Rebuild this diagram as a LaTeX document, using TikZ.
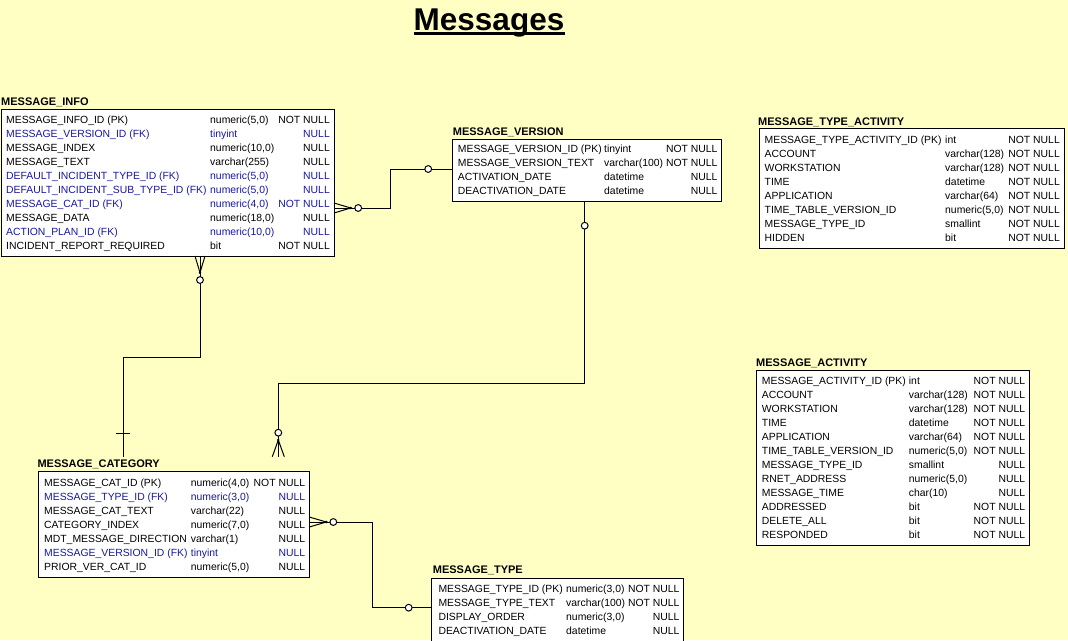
\documentclass[tikz,border=0pt]{standalone}
\usepackage{fontspec}
\setmainfont{Liberation Sans}
\usetikzlibrary{calc}
\definecolor{bgy}{RGB}{255,255,196}
\definecolor{fkblue}{RGB}{24,24,160}
\newfontfamily\erfont{Liberation Sans}
\newcommand\rw[6]{%
 \node[cell,text=#6] (#1-a#2) at ($(#1.north west)+(\colA,\rowY+14*#2)$) {#3};
 \node[cell,text=#6] (#1-b#2) at ($(#1.north west)+(\colB,\rowY+14*#2)$) {#4};
 \node[celr,text=#6] (#1-c#2) at ($(#1.north east)+(-4,\rowY+14*#2)$) {#5};}
\tikzset{
 tbl/.style={draw=black, line width=1pt, fill=white, anchor=north west, inner sep=0pt, outer sep=0pt},
 ttl/.style={anchor=base west, inner sep=0pt, font=\erfont\bfseries\fontsize{11}{13}\selectfont},
 cell/.style={anchor=base west, inner sep=0pt, font=\erfont\fontsize{10.4}{12}\selectfont},
 celr/.style={cell, anchor=base east},
 conn/.style={line width=1pt, draw=black},
 opt/.style={line width=1pt, fill=white, draw=black},
}
\begin{document}
\begin{tikzpicture}[x=1pt,y=-1pt]
\path[use as bounding box] (0,0) rectangle (1068,640);
\fill[bgy] (0,0) rectangle (1068,640);
\clip (0,0) rectangle (1068,640);

% title
\node[font=\bfseries\fontsize{31.5}{36}\selectfont, anchor=base, inner sep=0pt] (title) at (489,30.5) {Messages};
\draw[line width=2.7pt] ($(title.base west)+(0,3)$) -- ($(title.base east)+(0,3)$);

% ---------- tables ----------
% MESSAGE_INFO
\node[tbl, minimum width=333pt, minimum height=147pt] (mi) at (1,109) {};
\node[ttl] (mi-t) at (1,105) {MESSAGE\_INFO};
\def\colA{5}\def\colB{209}\def\rowY{14.5}
\rw{mi}{0}{MESSAGE\_INFO\_ID (PK)}{numeric(5,0)}{NOT NULL}{black}
\rw{mi}{1}{MESSAGE\_VERSION\_ID (FK)}{tinyint}{NULL}{fkblue}
\rw{mi}{2}{MESSAGE\_INDEX}{numeric(10,0)}{NULL}{black}
\rw{mi}{3}{MESSAGE\_TEXT}{varchar(255)}{NULL}{black}
\rw{mi}{4}{DEFAULT\_INCIDENT\_TYPE\_ID (FK)}{numeric(5,0)}{NULL}{fkblue}
\rw{mi}{5}{DEFAULT\_INCIDENT\_SUB\_TYPE\_ID (FK)}{numeric(5,0)}{NULL}{fkblue}
\rw{mi}{6}{MESSAGE\_CAT\_ID (FK)}{numeric(4,0)}{NOT NULL}{fkblue}
\rw{mi}{7}{MESSAGE\_DATA}{numeric(18,0)}{NULL}{black}
\rw{mi}{8}{ACTION\_PLAN\_ID (FK)}{numeric(10,0)}{NULL}{fkblue}
\rw{mi}{9}{INCIDENT\_REPORT\_REQUIRED}{bit}{NOT NULL}{black}

% MESSAGE_VERSION
\node[tbl, minimum width=269pt, minimum height=62.7pt] (mv) at (452.7,139) {};
\node[ttl] (mv-t) at (452.7,135) {MESSAGE\_VERSION};
\def\colA{5}\def\colB{151.3}\def\rowY{13.8}
\rw{mv}{0}{MESSAGE\_VERSION\_ID (PK)}{tinyint}{NOT NULL}{black}
\rw{mv}{1}{MESSAGE\_VERSION\_TEXT}{varchar(100)}{NOT NULL}{black}
\rw{mv}{2}{ACTIVATION\_DATE}{datetime}{NULL}{black}
\rw{mv}{3}{DEACTIVATION\_DATE}{datetime}{NULL}{black}

% MESSAGE_TYPE_ACTIVITY
\node[tbl, minimum width=305pt, minimum height=119.5pt] (mta) at (759,128.5) {};
\node[ttl] (mta-t) at (758,125.5) {MESSAGE\_TYPE\_ACTIVITY};
\def\colA{5.5}\def\colB{186}\def\rowY{15}
\rw{mta}{0}{MESSAGE\_TYPE\_ACTIVITY\_ID (PK)}{int}{NOT NULL}{black}
\rw{mta}{1}{ACCOUNT}{varchar(128)}{NOT NULL}{black}
\rw{mta}{2}{WORKSTATION}{varchar(128)}{NOT NULL}{black}
\rw{mta}{3}{TIME}{datetime}{NOT NULL}{black}
\rw{mta}{4}{APPLICATION}{varchar(64)}{NOT NULL}{black}
\rw{mta}{5}{TIME\_TABLE\_VERSION\_ID}{numeric(5,0)}{NOT NULL}{black}
\rw{mta}{6}{MESSAGE\_TYPE\_ID}{smallint}{NOT NULL}{black}
\rw{mta}{7}{HIDDEN}{bit}{NOT NULL}{black}

% MESSAGE_ACTIVITY
\node[tbl, minimum width=272.6pt, minimum height=175.7pt] (ma) at (756.7,370) {};
\node[ttl] (ma-t) at (756,366.7) {MESSAGE\_ACTIVITY};
\def\colA{5}\def\colB{152}\def\rowY{14.5}
\rw{ma}{0}{MESSAGE\_ACTIVITY\_ID (PK)}{int}{NOT NULL}{black}
\rw{ma}{1}{ACCOUNT}{varchar(128)}{NOT NULL}{black}
\rw{ma}{2}{WORKSTATION}{varchar(128)}{NOT NULL}{black}
\rw{ma}{3}{TIME}{datetime}{NOT NULL}{black}
\rw{ma}{4}{APPLICATION}{varchar(64)}{NOT NULL}{black}
\rw{ma}{5}{TIME\_TABLE\_VERSION\_ID}{numeric(5,0)}{NOT NULL}{black}
\rw{ma}{6}{MESSAGE\_TYPE\_ID}{smallint}{NULL}{black}
\rw{ma}{7}{RNET\_ADDRESS}{numeric(5,0)}{NULL}{black}
\rw{ma}{8}{MESSAGE\_TIME}{char(10)}{NULL}{black}
\rw{ma}{9}{ADDRESSED}{bit}{NOT NULL}{black}
\rw{ma}{10}{DELETE\_ALL}{bit}{NOT NULL}{black}
\rw{ma}{11}{RESPONDED}{bit}{NOT NULL}{black}

% MESSAGE_CATEGORY
\node[tbl, minimum width=271pt, minimum height=105.6pt] (mc) at (38.3,471.7) {};
\node[ttl] (mc-t) at (37.3,467.3) {MESSAGE\_CATEGORY};
\def\colA{5.7}\def\colB{152.4}\def\rowY{14.5}
\rw{mc}{0}{MESSAGE\_CAT\_ID (PK)}{numeric(4,0)}{NOT NULL}{black}
\rw{mc}{1}{MESSAGE\_TYPE\_ID (FK)}{numeric(3,0)}{NULL}{fkblue}
\rw{mc}{2}{MESSAGE\_CAT\_TEXT}{varchar(22)}{NULL}{black}
\rw{mc}{3}{CATEGORY\_INDEX}{numeric(7,0)}{NULL}{black}
\rw{mc}{4}{MDT\_MESSAGE\_DIRECTION}{varchar(1)}{NULL}{black}
\rw{mc}{5}{MESSAGE\_VERSION\_ID (FK)}{tinyint}{NULL}{fkblue}
\rw{mc}{6}{PRIOR\_VER\_CAT\_ID}{numeric(5,0)}{NULL}{black}

% MESSAGE_TYPE
\node[tbl, minimum width=252pt, minimum height=80pt] (mt) at (431.7,578.3) {};
\node[ttl] (mt-t) at (432.7,573.3) {MESSAGE\_TYPE};
\def\colA{6.6}\def\colB{134.3}\def\rowY{14.2}
\rw{mt}{0}{MESSAGE\_TYPE\_ID (PK)}{numeric(3,0)}{NOT NULL}{black}
\rw{mt}{1}{MESSAGE\_TYPE\_TEXT}{varchar(100)}{NOT NULL}{black}
\rw{mt}{2}{DISPLAY\_ORDER}{numeric(3,0)}{NULL}{black}
\rw{mt}{3}{DEACTIVATION\_DATE}{datetime}{NULL}{black}

% ---------- connectors ----------
% MESSAGE_VERSION -> MESSAGE_INFO
\coordinate (a1) at ($(mv.north west)+(0,30)$);
\coordinate (a2) at ($(mi.north east)+(0,99)$);
\draw[conn] (a1) -- ($(a1)+(-62,0)$) |- (a2);
\draw[conn] ($(a2)+(0,-5)$) -- ($(a2)+(16.7,0)$) -- ($(a2)+(0,5)$);
\fill ($(a2)+(16.7,0)$) circle (1.4pt);
\draw[opt] ($(a2)+(24.2,0)$) circle (3.4pt);
\draw[opt] ($(a1)+(-24.5,0)$) circle (3.4pt);

% MESSAGE_INFO -> MESSAGE_CATEGORY
\coordinate (b1) at ($(mi.south west)+(199,0)$);
\coordinate (b2) at ($(mc.north west)+(85,-15)$);
\draw[conn] (b1) -- ($(b1)+(0,101)$) -| (b2);
\draw[conn] ($(b1)+(-5,0)$) -- ($(b1)+(0,16.7)$) -- ($(b1)+(5,0)$);
\fill ($(b1)+(0,16.7)$) circle (1.4pt);
\draw[opt] ($(b1)+(0,24)$) circle (3.4pt);
\draw[conn] ($(b2)+(-7,-23.7)$) -- ($(b2)+(7,-23.7)$);

% MESSAGE_VERSION -> MESSAGE_CATEGORY
\coordinate (c1) at ($(mv.south west)+(132,0)$);
\coordinate (c2) at ($(mc.north west)+(240,-15)$);
\draw[conn] (c1) -- ($(c1)+(0,182)$) -| (c2);
\draw[opt] ($(c1)+(0,24)$) circle (3.4pt);
\draw[conn] ($(c2)+(-6,0)$) -- ($(c2)+(0,-16.7)$) -- ($(c2)+(6,0)$);
\fill ($(c2)+(0,-16.7)$) circle (1.4pt);
\draw[opt] ($(c2)+(0,-24)$) circle (3.4pt);

% MESSAGE_TYPE -> MESSAGE_CATEGORY
\coordinate (d1) at ($(mc.north east)+(0,50.3)$);
\coordinate (d2) at ($(mt.north west)+(0,29.4)$);
\draw[conn] (d1) -- ($(d1)+(63,0)$) |- (d2);
\draw[conn] ($(d1)+(0,-5)$) -- ($(d1)+(17,0)$) -- ($(d1)+(0,5)$);
\fill ($(d1)+(17,0)$) circle (1.4pt);
\draw[opt] ($(d1)+(24,0)$) circle (3.4pt);
\draw[opt] ($(d2)+(-23,0)$) circle (3.4pt);
\end{tikzpicture}
\end{document}
